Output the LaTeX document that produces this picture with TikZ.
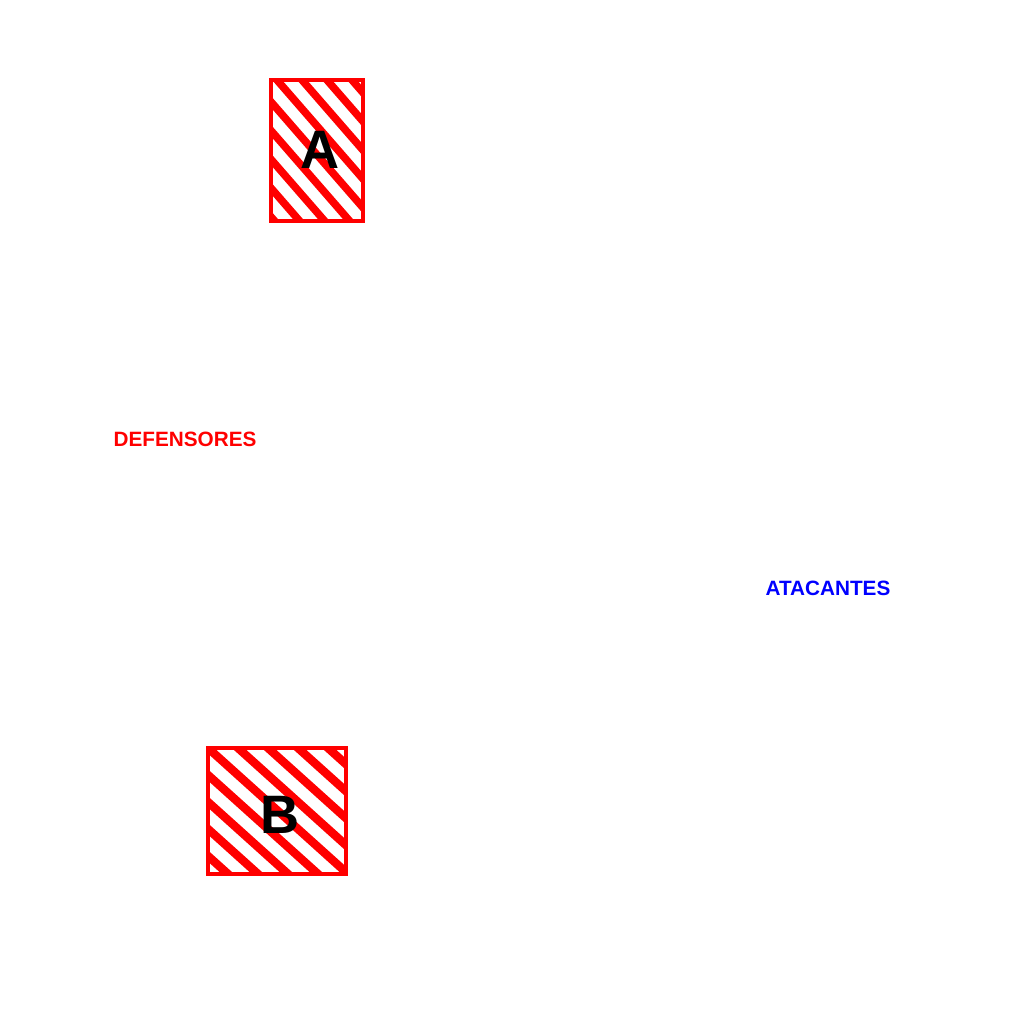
\documentclass[tikz,border=0pt]{standalone}
\usepackage{fontspec}
\setmainfont{Liberation Sans}
\begin{document}
\begin{tikzpicture}[x=0.05cm,y=-0.05cm,
  hatchbox/.style={draw=red,line width=0.18cm,inner sep=0pt},
  stripeA/.style={red,line width=0.38cm},
  stripeB/.style={red,line width=0.42cm},
  letter/.style={font=\fontsize{77pt}{80pt}\selectfont\bfseries,anchor=base,inner sep=0pt},
  team/.style={font=\fontsize{29.5pt}{32pt}\selectfont\bfseries,anchor=base,inner sep=0pt}]
\useasboundingbox[fill=white] (0,0) rectangle (1024,1024);
% box A
\begin{scope}
\clip (271,80) rectangle (363,221);
\foreach \k in {-9,...,6}{
  \draw[stripeA] ({277+\k*25-200},{80-230}) -- ({277+\k*25+200},{80+230});
}
\end{scope}
\node[hatchbox,minimum width=4.6cm,minimum height=7.05cm] (boxA) at (317,150.5) {};
\node[letter] (labA) at (320,168) {A};
% box B
\begin{scope}
\clip (208,748) rectangle (346,874);
\foreach \k in {-6,...,6}{
  \draw[stripeB] ({208+\k*30-300},{748-270}) -- ({208+\k*30+300},{748+270});
}
\end{scope}
\node[hatchbox,minimum width=6.9cm,minimum height=6.3cm] (boxB) at (277,811) {};
\node[letter] (labB) at (280,833) {B};
% team labels
\node[team,text=red] (def) at (185,446) {DEFENSORES};
\node[team,text=blue] (att) at (828,595) {ATACANTES};
\end{tikzpicture}
\end{document}
